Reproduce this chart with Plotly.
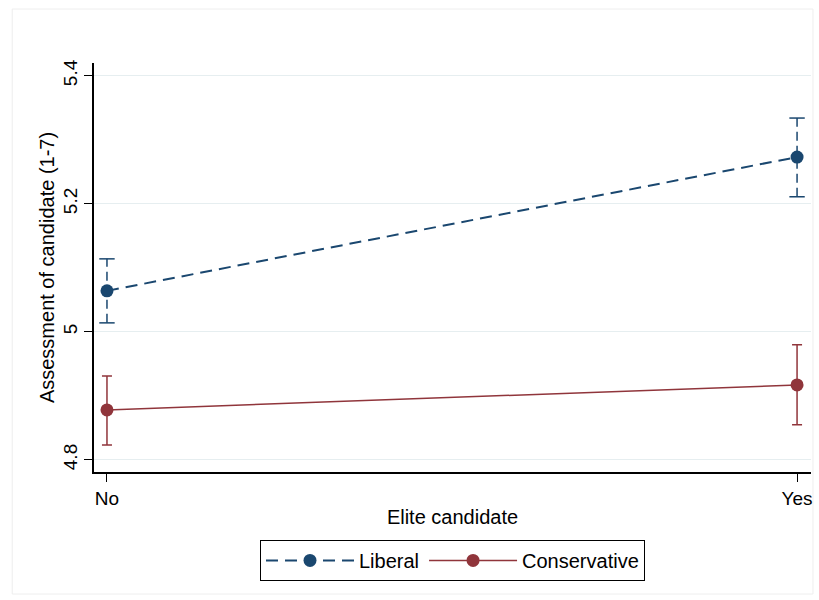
import plotly.graph_objects as go

categories = ["No", "Yes"]
x_pos = [0, 1]
liberal = [5.064, 5.273]
liberal_hi = [5.114, 5.334]
liberal_lo = [5.014, 5.211]
conservative = [4.878, 4.917]
conservative_hi = [4.931, 4.980]
conservative_lo = [4.823, 4.855]
y_ticks = [4.8, 5.0, 5.2, 5.4]
y_ticklabels = ["4.8", "5", "5.2", "5.4"]

NAVY = "#1a476f"
MAROON = "#90353b"
FONT = "Liberation Sans, Arial, Helvetica, sans-serif"

fig = go.Figure()

# Liberal dashed error bars (vertical parts)
ex, ey = [], []
for xi, lo, hi in zip(x_pos, liberal_lo, liberal_hi):
    ex += [xi, xi, None]
    ey += [lo, hi, None]
fig.add_trace(go.Scatter(x=ex, y=ey, mode="lines",
                         line=dict(color=NAVY, width=1.5, dash="9px,5px"),
                         showlegend=False, hoverinfo="skip"))
# Liberal caps
fig.add_trace(go.Scatter(x=x_pos + x_pos, y=liberal_lo + liberal_hi, mode="markers",
                         marker=dict(symbol="line-ew", size=11,
                                     line=dict(color=NAVY, width=1.5)),
                         showlegend=False, hoverinfo="skip"))

fig.add_trace(go.Scatter(
    x=x_pos, y=liberal, mode="lines+markers", name="Liberal",
    line=dict(color=NAVY, width=2, dash="12px,7px"),
    marker=dict(color=NAVY, size=13),
))

fig.add_trace(go.Scatter(
    x=x_pos, y=conservative, mode="lines+markers", name="Conservative",
    line=dict(color=MAROON, width=1.5),
    marker=dict(color=MAROON, size=13),
    error_y=dict(type="data", symmetric=False,
                 array=[h - v for h, v in zip(conservative_hi, conservative)],
                 arrayminus=[v - l for l, v in zip(conservative_lo, conservative)],
                 color=MAROON, thickness=1.5, width=5),
))

fig.update_layout(
    width=819, height=600,
    margin=dict(l=94, r=6, t=63, b=128),
    paper_bgcolor="white", plot_bgcolor="white",
    font=dict(family=FONT, size=19, color="black"),
    showlegend=True,
    legend=dict(orientation="h", x=0.5, xanchor="center", y=-0.166, yanchor="top",
                bordercolor="black", borderwidth=1, font=dict(size=20),
                itemwidth=88, tracegroupgap=0),
    shapes=[dict(type="rect", xref="paper", yref="paper",
                 x0=(12 - 94) / 719, x1=(815 - 94) / 719,
                 y0=-(594 - 472) / 409, y1=1 + (63 - 9) / 409,
                 line=dict(color="#eeeeee", width=1), layer="below")],
)

fig.update_xaxes(
    range=[-0.0188, 1.0202], tickvals=x_pos, ticktext=categories,
    tickfont=dict(size=19),
    showline=True, linecolor="black", linewidth=1.5,
    ticks="outside", ticklen=8, tickcolor="black",
    showgrid=False, zeroline=False,
    title=dict(text="Elite candidate", standoff=2, font=dict(size=20)),
)
fig.update_yaxes(
    range=[4.781, 5.420], tickvals=y_ticks, ticktext=y_ticklabels, tickangle=-90,
    tickfont=dict(size=19),
    showline=True, linecolor="black", linewidth=1.5,
    ticks="outside", ticklen=8, tickcolor="black",
    showgrid=True, gridcolor="#e6eef0", gridwidth=1, zeroline=False,
    title=dict(text="Assessment of candidate (1-7)", standoff=0, font=dict(size=20)),
)

fig.write_html("out.html")
